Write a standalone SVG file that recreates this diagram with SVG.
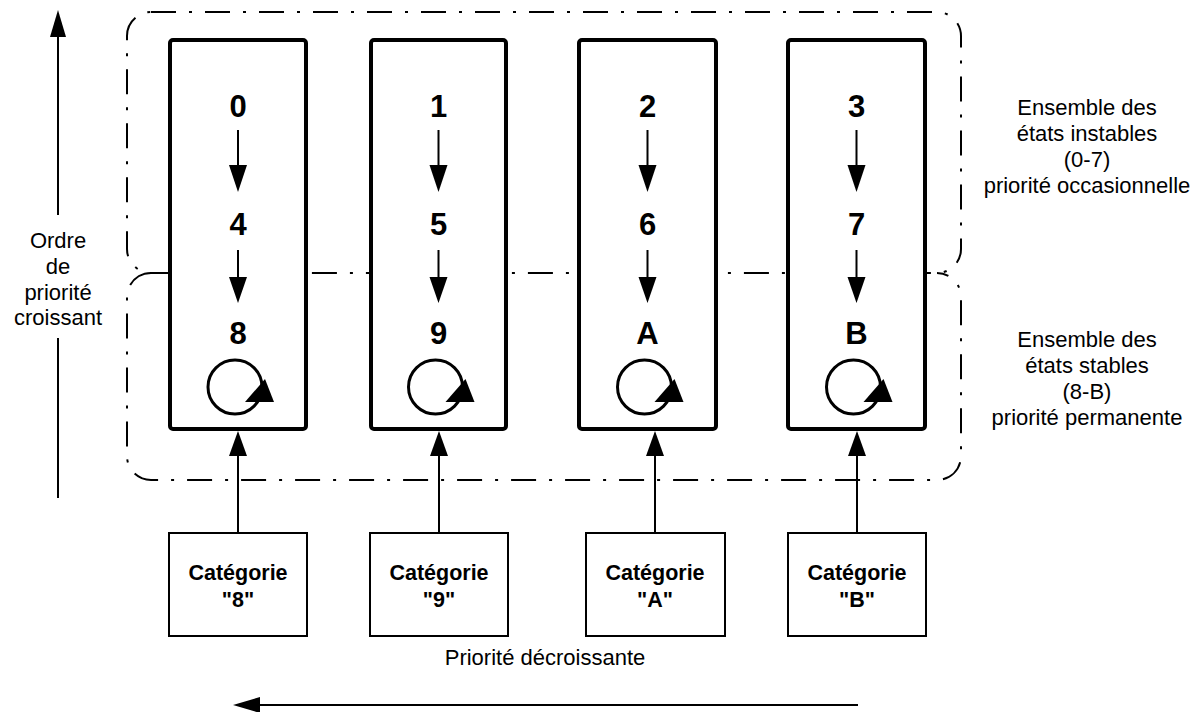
<svg xmlns="http://www.w3.org/2000/svg" width="1194" height="712" viewBox="0 0 1194 712">
<style>
.region{fill:none;stroke:#000;stroke-width:2;stroke-dasharray:25 13 3 13}
.state{fill:#fff;stroke:#000;stroke-width:4}
.cat{fill:#fff;stroke:#000;stroke-width:2}
.ln{stroke:#000;stroke-width:2;fill:none}
.loop{fill:none;stroke:#000;stroke-width:3}
.head{fill:#000}
.dig{font-family:"Liberation Sans",Arial,sans-serif;font-weight:bold;font-size:31px;text-anchor:middle}
.cl{font-family:"Liberation Sans",Arial,sans-serif;font-weight:bold;font-size:21.5px;text-anchor:middle}
.lbl{font-family:"Liberation Sans",Arial,sans-serif;font-size:22px;text-anchor:middle}
</style>
<rect width="1194" height="712" fill="#fff"/>
<g id="regions">
<rect class="region" x="127" y="12" width="834" height="261" rx="24" ry="24"/>
<path class="region" d="M151,273 A24,24 0 0 0 127,297 V456 A24,24 0 0 0 151,480 H937 A24,24 0 0 0 961,456 V297 A24,24 0 0 0 937,273"/>
</g>
<g id="col8">
<rect class="state" x="170" y="40" width="136" height="389" rx="3"/>
<text class="dig" x="238" y="117">0</text>
<text class="dig" x="238" y="235">4</text>
<text class="dig" x="238" y="344">8</text>
<circle class="loop" cx="235" cy="387" r="27"/>
<polygon class="head" points="245,402 274,402 265,379"/>
</g>
<g id="col9">
<rect class="state" x="371" y="40" width="135" height="389" rx="3"/>
<text class="dig" x="438.5" y="117">1</text>
<text class="dig" x="438.5" y="235">5</text>
<text class="dig" x="438.5" y="344">9</text>
<circle class="loop" cx="435.5" cy="387" r="27"/>
<polygon class="head" points="445.5,402 474.5,402 465.5,379"/>
</g>
<g id="colA">
<rect class="state" x="579" y="40" width="137" height="389" rx="3"/>
<text class="dig" x="647.5" y="117">2</text>
<text class="dig" x="647.5" y="235">6</text>
<text class="dig" x="647.5" y="344">A</text>
<circle class="loop" cx="644.5" cy="387" r="27"/>
<polygon class="head" points="654.5,402 683.5,402 674.5,379"/>
</g>
<g id="colB">
<rect class="state" x="788" y="40" width="137" height="389" rx="3"/>
<text class="dig" x="856.5" y="117">3</text>
<text class="dig" x="856.5" y="235">7</text>
<text class="dig" x="856.5" y="344">B</text>
<circle class="loop" cx="853.5" cy="387" r="27"/>
<polygon class="head" points="863.5,402 892.5,402 883.5,379"/>
</g>
<g id="cat8">
<rect class="cat" x="169" y="533" width="138" height="103"/>
<text class="cl" x="238" y="580">Catégorie</text>
<text class="cl" x="238" y="607">"8"</text>
</g>
<g id="cat9">
<rect class="cat" x="370" y="533" width="138" height="103"/>
<text class="cl" x="439" y="580">Catégorie</text>
<text class="cl" x="439" y="607">"9"</text>
</g>
<g id="catA">
<rect class="cat" x="586" y="533" width="139" height="103"/>
<text class="cl" x="655" y="580">Catégorie</text>
<text class="cl" x="655" y="607">"A"</text>
</g>
<g id="catB">
<rect class="cat" x="788" y="533" width="138" height="103"/>
<text class="cl" x="857" y="580">Catégorie</text>
<text class="cl" x="857" y="607">"B"</text>
</g>
<g id="connectors">
<line class="ln" x1="238" y1="130" x2="238" y2="170"/><polygon class="head" points="229,165 247,165 238,192"/>
<line class="ln" x1="238" y1="250" x2="238" y2="280"/><polygon class="head" points="229,277 247,277 238,303"/>
<line class="ln" x1="438.5" y1="130" x2="438.5" y2="170"/><polygon class="head" points="429.5,165 447.5,165 438.5,192"/>
<line class="ln" x1="438.5" y1="250" x2="438.5" y2="280"/><polygon class="head" points="429.5,277 447.5,277 438.5,303"/>
<line class="ln" x1="647.5" y1="130" x2="647.5" y2="170"/><polygon class="head" points="638.5,165 656.5,165 647.5,192"/>
<line class="ln" x1="647.5" y1="250" x2="647.5" y2="280"/><polygon class="head" points="638.5,277 656.5,277 647.5,303"/>
<line class="ln" x1="856.5" y1="130" x2="856.5" y2="170"/><polygon class="head" points="847.5,165 865.5,165 856.5,192"/>
<line class="ln" x1="856.5" y1="250" x2="856.5" y2="280"/><polygon class="head" points="847.5,277 865.5,277 856.5,303"/>
<line class="ln" x1="238" y1="533" x2="238" y2="452"/><polygon class="head" points="229,456 247,456 238,431"/>
<line class="ln" x1="439" y1="533" x2="439" y2="452"/><polygon class="head" points="430,456 448,456 439,431"/>
<line class="ln" x1="655" y1="533" x2="655" y2="452"/><polygon class="head" points="646,456 664,456 655,431"/>
<line class="ln" x1="857" y1="533" x2="857" y2="452"/><polygon class="head" points="848,456 866,456 857,431"/>
<line class="ln" x1="58" y1="30" x2="58" y2="215"/><polygon class="head" points="50,37 66,37 58,10"/>
<line class="ln" x1="58" y1="338" x2="58" y2="498"/>
<line class="ln" x1="255" y1="705" x2="858" y2="705"/><polygon class="head" points="260,697 260,713 233,705"/>
</g>
<g id="labels">
<text class="lbl" x="58" y="248">Ordre</text>
<text class="lbl" x="58" y="274">de</text>
<text class="lbl" x="58" y="300">priorité</text>
<text class="lbl" x="58" y="325">croissant</text>
<text class="lbl" x="1087" y="115">Ensemble des</text>
<text class="lbl" x="1087" y="141">états instables</text>
<text class="lbl" x="1087" y="167">(0-7)</text>
<text class="lbl" x="1087" y="193">priorité occasionnelle</text>
<text class="lbl" x="1087" y="347">Ensemble des</text>
<text class="lbl" x="1087" y="373">états stables</text>
<text class="lbl" x="1087" y="399">(8-B)</text>
<text class="lbl" x="1087" y="425">priorité permanente</text>
<text class="lbl" x="545" y="665">Priorité décroissante</text>
</g>
</svg>
